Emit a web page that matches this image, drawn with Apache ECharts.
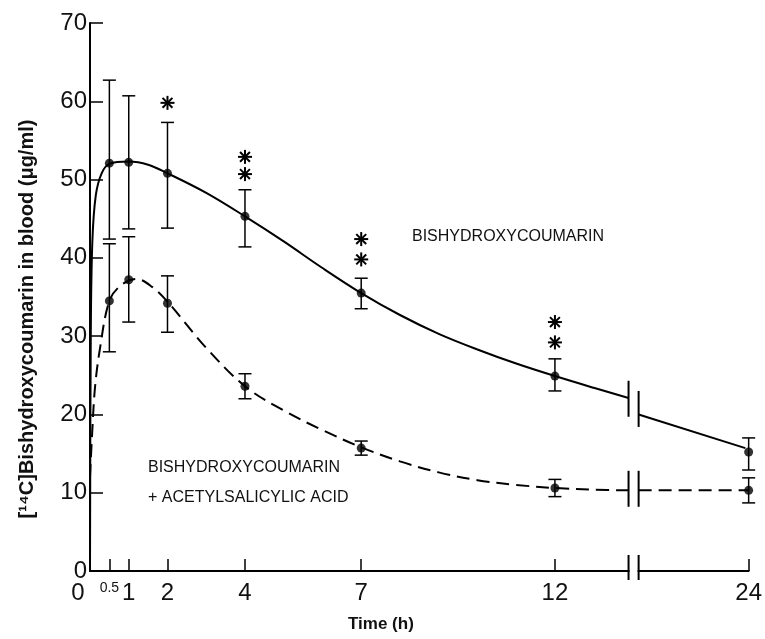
<!DOCTYPE html>
<html>
<head>
<meta charset="utf-8">
<script src="https://cdn.jsdelivr.net/npm/echarts@6/dist/echarts.min.js"></script>
<style>
  html, body { margin: 0; padding: 0; background: #fff; }
  #chart { width: 765px; height: 639px; }
</style>
</head>
<body>
<div id="chart"></div>
<script>
// tick marks of the time axis (h)
var tickTimes = [0, 0.5, 1, 2, 4, 7, 12, 24];
var tickLabels = ['0', '0.5', '1', '2', '4', '7', '12', '24'];
var yTicks = [10, 20, 30, 40, 50, 60, 70];

// mean values
var sampleTimes = [0.5, 1, 2, 4, 7, 12, 24];
var dhcMean = [52.1, 52.2, 50.8, 45.3, 35.5, 24.9, 15.2];
var dhcLow  = [42.4, 43.7, 43.8, 41.4, 33.5, 23.0, 12.9];
var dhcHigh = [62.7, 60.7, 57.3, 48.7, 37.4, 27.1, 17.0];

var asaMean = [34.5, 37.2, 34.2, 23.6, 15.7, 10.6, 10.3];
var asaLow  = [28.0, 31.8, 30.5, 22.0, 14.8, 9.5, 8.7];
var asaHigh = [41.8, 42.7, 37.7, 25.2, 16.6, 11.7, 11.9];

// significance stars [time, level]
var stars = [[2, 59.8], [4, 52.9], [4, 50.7], [7, 42.4], [7, 39.8], [12, 31.8], [12, 29.2]];

// fitted curves drawn in the figure [time, value], split at the axis break
var dhcCurveA = [[0, 0], [0.02, 30], [0.06, 42], [0.15, 48], [0.3, 50.8], [0.5, 52], [1, 52.3],
  [1.5, 51.9], [2, 50.8], [3, 48.3], [4, 45.3], [5, 42.1], [6, 38.7], [7, 35.5], [8, 32.7],
  [9, 30.3], [10, 28.3], [11, 26.5], [12, 24.9], [13, 23.4], [13.9, 22.1]];
var dhcCurveB = [[14, 20.0], [23.7, 15.7]];
var asaCurveA = [[0, 12], [0.06, 18], [0.13, 23.5], [0.26, 28.5], [0.5, 34.5],
  [0.8, 36.5], [1.2, 37.3], [1.6, 36.3], [2, 34.4], [3, 28.5], [4, 23.6],
  [5, 20.5], [6, 18.0], [7, 15.8], [8, 14.0], [9, 12.6], [10, 11.6], [11, 11.0], [12, 10.6],
  [13, 10.4], [13.9, 10.3]];
var asaCurveB = [[14, 10.3], [24, 10.3]];

// curve levels where the break marks cross them [left, right]
var breakCurveLevels = [[22.0, 20.7], [10.5, 10.5]];

// axis break: linear up to 13.9 h, then 14-24 h compressed
var BREAK_L = 13.9, BREAK_R = 14.16, TAIL = 0.284;
function pos(t) {
  return t < 14 ? t : BREAK_R + (t - 14) * TAIL;
}
function mapPts(arr) {
  return arr.map(function (d) { return [pos(d[0]), d[1]]; });
}

var chart = echarts.init(document.getElementById('chart'));

function errItem(params, api) {
  var x = api.value(0);
  var lo = api.coord([x, api.value(1)]);
  var hi = api.coord([x, api.value(2)]);
  var w = 6.5;
  var st = { stroke: '#000', lineWidth: 1.5 };
  return {
    type: 'group',
    children: [
      { type: 'line', shape: { x1: lo[0], y1: lo[1], x2: hi[0], y2: hi[1] }, style: st },
      { type: 'line', shape: { x1: lo[0] - w, y1: lo[1], x2: lo[0] + w, y2: lo[1] }, style: st },
      { type: 'line', shape: { x1: hi[0] - w, y1: hi[1], x2: hi[0] + w, y2: hi[1] }, style: st }
    ]
  };
}

function starItem(params, api) {
  var c = api.coord([api.value(0), api.value(1)]);
  var r = 7, kids = [];
  for (var k = 0; k < 4; k++) {
    var a = k * Math.PI / 4;
    kids.push({
      type: 'line',
      shape: { x1: c[0] - r * Math.sin(a), y1: c[1] - r * Math.cos(a), x2: c[0] + r * Math.sin(a), y2: c[1] + r * Math.cos(a) },
      style: { stroke: '#000', lineWidth: 2 }
    });
  }
  return { type: 'group', children: kids };
}

function breakItem(params, api) {
  var idx = params.dataIndex;
  var kids = [];
  var st = { stroke: '#000', lineWidth: 2 };
  if (idx === 0) {
    // gap in the time axis with two upright marks
    var a = api.coord([BREAK_L, 0]), b = api.coord([BREAK_R, 0]);
    kids.push({ type: 'rect', shape: { x: a[0] + 1, y: a[1] - 3, width: b[0] - a[0] - 2, height: 6 }, style: { fill: '#fff' } });
    kids.push({ type: 'line', shape: { x1: a[0], y1: a[1] - 16, x2: a[0], y2: a[1] + 9 }, style: st });
    kids.push({ type: 'line', shape: { x1: b[0], y1: b[1] - 16, x2: b[0], y2: b[1] + 9 }, style: st });
  } else {
    var lv = breakCurveLevels[idx - 1];
    var p = api.coord([BREAK_L, lv[0]]), q = api.coord([BREAK_R, lv[1]]);
    kids.push({ type: 'line', shape: { x1: p[0], y1: p[1] - 18, x2: p[0], y2: p[1] + 18 }, style: st });
    kids.push({ type: 'line', shape: { x1: q[0], y1: q[1] - 18, x2: q[0], y2: q[1] + 18 }, style: st });
  }
  return { type: 'group', children: kids };
}

var numFont = 'Liberation Sans';
var labelFont = '16px "Liberation Sans"';

var option = {
  animation: false,
  backgroundColor: '#fff',
  grid: { left: 90, right: 16, top: 23, bottom: 68 },
  title: {
    text: 'Time (h)',
    left: 343,
    top: 611,
    textStyle: { fontFamily: numFont, fontSize: 17, fontWeight: 'bold', color: '#111' }
  },
  graphic: [
    {
      type: 'text', x: 27, y: 319, rotation: Math.PI / 2,
      style: {
        text: '[¹⁴C]Bishydroxycoumarin in blood (μg/ml)',
        font: 'bold 20px "Liberation Sans"', fill: '#111',
        align: 'center', verticalAlign: 'middle'
      }
    },
    { type: 'text', left: 412, top: 229, style: { text: 'BISHYDROXYCOUMARIN', font: labelFont, fill: '#111' } },
    { type: 'text', left: 148, top: 460, style: { text: 'BISHYDROXYCOUMARIN', font: labelFont, fill: '#111' } },
    { type: 'text', left: 148, top: 490, style: { text: '+ ACETYLSALICYLIC ACID', font: labelFont, fill: '#111' } }
  ],
  xAxis: {
    type: 'value',
    min: 0,
    max: pos(24),
    splitLine: { show: false },
    axisLine: { lineStyle: { color: '#000', width: 2 } },
    axisTick: {
      inside: true, length: 12,
      customValues: tickTimes.slice(1).map(pos),
      lineStyle: { color: '#000', width: 1.5 }
    },
    axisLabel: {
      customValues: tickTimes.map(pos),
      margin: 10,
      color: '#111',
      fontFamily: numFont,
      fontSize: 24,
      formatter: function (v) {
        for (var i = 0; i < tickTimes.length; i++) {
          if (Math.abs(pos(tickTimes[i]) - v) < 1e-6) {
            if (tickLabels[i] === '0') return '{zero|0}';
            if (tickLabels[i] === '0.5') return '{half|0.5}';
            return tickLabels[i];
          }
        }
        return '';
      },
      rich: {
        zero: { fontSize: 24, fontFamily: numFont, color: '#111', padding: [0, 24, 0, 0] },
        half: { fontSize: 14, fontFamily: numFont, color: '#111' }
      }
    }
  },
  yAxis: {
    type: 'value',
    min: 0,
    max: 70,
    interval: 10,
    splitLine: { show: false },
    axisLine: { show: true, lineStyle: { color: '#000', width: 2 } },
    axisTick: {
      show: true, inside: true, length: 13,
      customValues: yTicks,
      lineStyle: { color: '#000', width: 1.5 }
    },
    axisLabel: { margin: 3, color: '#111', fontFamily: numFont, fontSize: 24 }
  },
  series: [
    {
      type: 'line', data: mapPts(dhcCurveA), smooth: 0.35, showSymbol: false,
      lineStyle: { color: '#000', width: 2 }, z: 2
    },
    {
      type: 'line', data: mapPts(dhcCurveB), showSymbol: false,
      lineStyle: { color: '#000', width: 2 }, z: 2
    },
    {
      type: 'line', data: mapPts(asaCurveA), smooth: 0.35, showSymbol: false,
      lineStyle: { color: '#000', width: 2, type: [13, 7] }, z: 2
    },
    {
      type: 'line', data: mapPts(asaCurveB), showSymbol: false,
      lineStyle: { color: '#000', width: 2, type: [13, 7] }, z: 2
    },
    {
      type: 'custom', renderItem: errItem, clip: false, z: 3,
      data: sampleTimes.map(function (t, i) { return [pos(t), dhcLow[i], dhcHigh[i]]; })
    },
    {
      type: 'custom', renderItem: errItem, clip: false, z: 3,
      data: sampleTimes.map(function (t, i) { return [pos(t), asaLow[i], asaHigh[i]]; })
    },
    {
      type: 'scatter', symbol: 'circle', symbolSize: 9, z: 4,
      itemStyle: { color: '#000' },
      data: sampleTimes.map(function (t, i) { return [pos(t), dhcMean[i]]; })
    },
    {
      type: 'scatter', symbol: 'circle', symbolSize: 9, z: 4,
      itemStyle: { color: '#000' },
      data: sampleTimes.map(function (t, i) { return [pos(t), asaMean[i]]; })
    },
    {
      type: 'custom', renderItem: starItem, clip: false, z: 4,
      data: stars.map(function (s) { return [pos(s[0]), s[1]]; })
    },
    {
      type: 'custom', renderItem: breakItem, clip: false, z: 5,
      data: [[BREAK_L, 0], [BREAK_L, breakCurveLevels[0][0]], [BREAK_L, breakCurveLevels[1][0]]]
    }
  ]
};

chart.setOption(option);
</script>
</body>
</html>
